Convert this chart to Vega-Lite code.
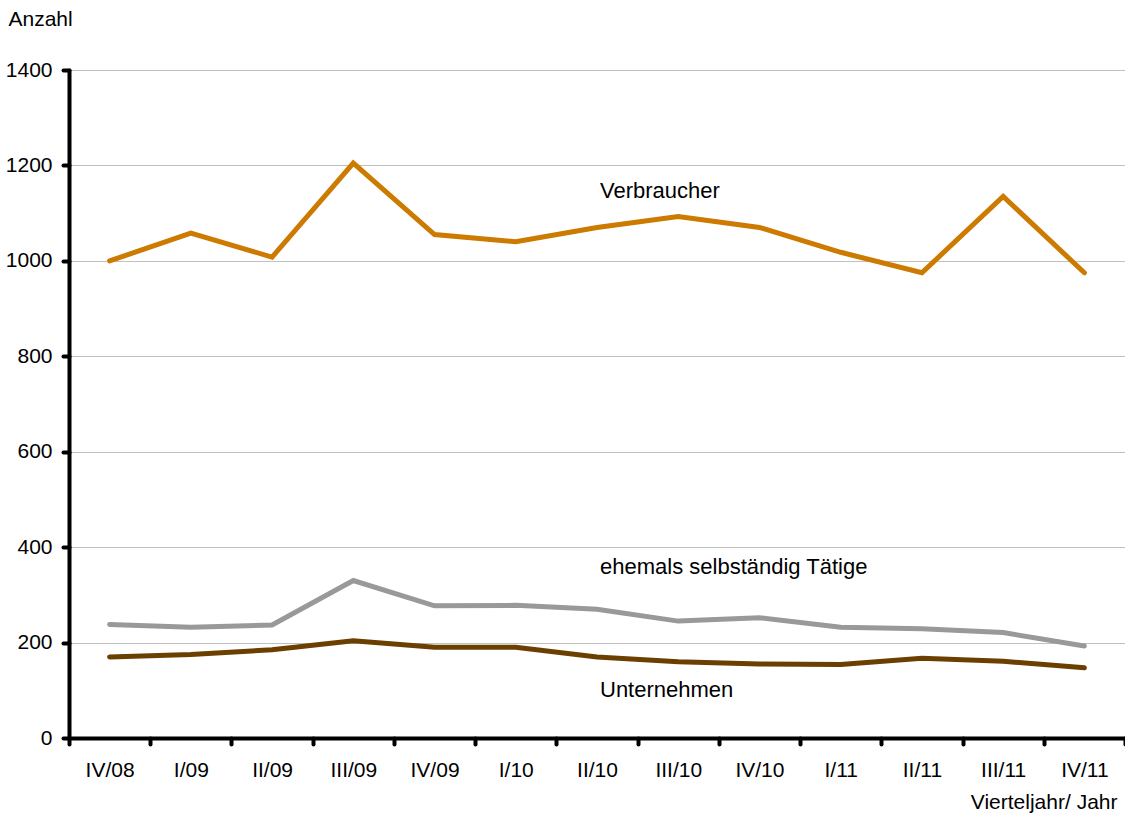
{
  "$schema": "https://vega.github.io/schema/vega-lite/v6.json",
  "autosize": {"type": "none"},
  "padding": {"left": 69, "top": 70, "right": 0, "bottom": 75},
  "width": 1056,
  "height": 668,
  "background": "white",
  "config": {
    "view": {"stroke": null},
    "font": "Liberation Sans",
    "axis": {"labelFont": "Liberation Sans", "titleFont": "Liberation Sans", "labelColor": "#000", "titleColor": "#000", "titleFontWeight": "normal"}
  },
  "datasets": {
    "series": [
      {"quarter": "IV/08", "series": "Verbraucher", "value": 1000},
      {"quarter": "I/09", "series": "Verbraucher", "value": 1058},
      {"quarter": "II/09", "series": "Verbraucher", "value": 1008},
      {"quarter": "III/09", "series": "Verbraucher", "value": 1205},
      {"quarter": "IV/09", "series": "Verbraucher", "value": 1055},
      {"quarter": "I/10", "series": "Verbraucher", "value": 1040},
      {"quarter": "II/10", "series": "Verbraucher", "value": 1070},
      {"quarter": "III/10", "series": "Verbraucher", "value": 1093},
      {"quarter": "IV/10", "series": "Verbraucher", "value": 1070},
      {"quarter": "I/11", "series": "Verbraucher", "value": 1018},
      {"quarter": "II/11", "series": "Verbraucher", "value": 975},
      {"quarter": "III/11", "series": "Verbraucher", "value": 1135},
      {"quarter": "IV/11", "series": "Verbraucher", "value": 975},
      {"quarter": "IV/08", "series": "ehemals selbständig Tätige", "value": 238},
      {"quarter": "I/09", "series": "ehemals selbständig Tätige", "value": 232},
      {"quarter": "II/09", "series": "ehemals selbständig Tätige", "value": 237},
      {"quarter": "III/09", "series": "ehemals selbständig Tätige", "value": 330},
      {"quarter": "IV/09", "series": "ehemals selbständig Tätige", "value": 277},
      {"quarter": "I/10", "series": "ehemals selbständig Tätige", "value": 278},
      {"quarter": "II/10", "series": "ehemals selbständig Tätige", "value": 270},
      {"quarter": "III/10", "series": "ehemals selbständig Tätige", "value": 245},
      {"quarter": "IV/10", "series": "ehemals selbständig Tätige", "value": 252},
      {"quarter": "I/11", "series": "ehemals selbständig Tätige", "value": 232},
      {"quarter": "II/11", "series": "ehemals selbständig Tätige", "value": 229},
      {"quarter": "III/11", "series": "ehemals selbständig Tätige", "value": 221},
      {"quarter": "IV/11", "series": "ehemals selbständig Tätige", "value": 193},
      {"quarter": "IV/08", "series": "Unternehmen", "value": 170},
      {"quarter": "I/09", "series": "Unternehmen", "value": 175},
      {"quarter": "II/09", "series": "Unternehmen", "value": 185},
      {"quarter": "III/09", "series": "Unternehmen", "value": 204},
      {"quarter": "IV/09", "series": "Unternehmen", "value": 190},
      {"quarter": "I/10", "series": "Unternehmen", "value": 190},
      {"quarter": "II/10", "series": "Unternehmen", "value": 170},
      {"quarter": "III/10", "series": "Unternehmen", "value": 160},
      {"quarter": "IV/10", "series": "Unternehmen", "value": 155},
      {"quarter": "I/11", "series": "Unternehmen", "value": 154},
      {"quarter": "II/11", "series": "Unternehmen", "value": 167},
      {"quarter": "III/11", "series": "Unternehmen", "value": 161},
      {"quarter": "IV/11", "series": "Unternehmen", "value": 147}
    ],
    "labels": [
      {"quarter": "II/10", "label": "Verbraucher", "value": 1147},
      {"quarter": "II/10", "label": "ehemals selbständig Tätige", "value": 358},
      {"quarter": "II/10", "label": "Unternehmen", "value": 100}
    ]
  },
  "layer": [
    {
      "data": {"name": "series"},
      "mark": {"type": "line", "strokeWidth": 5, "strokeCap": "round", "strokeJoin": "miter", "clip": false},
      "encoding": {
        "x": {
          "field": "quarter", "type": "ordinal", "bandPosition": 0.5,
          "scale": {"type": "band", "paddingInner": 0, "paddingOuter": 0, "domain": ["IV/08", "I/09", "II/09", "III/09", "IV/09", "I/10", "II/10", "III/10", "IV/10", "I/11", "II/11", "III/11", "IV/11"]},
          "axis": {
            "title": "Vierteljahr/ Jahr", "titleFontSize": 21, "titleX": 1048, "titleY": 70, "titleAlign": "right", "titleBaseline": "alphabetic", "titleAnchor": null,
            "labelAngle": 0, "labelFontSize": 21, "labelPadding": 32, "labelBaseline": "alphabetic",
            "domainColor": "#000", "domainWidth": 4, "domainCap": "round",
            "tickBand": "extent", "tickColor": "#000", "tickWidth": 4, "tickSize": 6, "tickCap": "round",
            "grid": false
          }
        },
        "y": {
          "field": "value", "type": "quantitative",
          "scale": {"domain": [0, 1400], "nice": false, "zero": true},
          "axis": {
            "title": "Anzahl", "titleFontSize": 21, "titleAngle": 0, "titleX": -61, "titleY": -45, "titleAlign": "left", "titleBaseline": "alphabetic", "titleAnchor": null,
            "values": [0, 200, 400, 600, 800, 1000, 1200, 1400], "format": "d",
            "labelFontSize": 21, "labelPadding": 11,
            "domainColor": "#000", "domainWidth": 4, "domainCap": "round",
            "tickColor": "#000", "tickWidth": 4, "tickSize": 6, "tickCap": "round",
            "grid": true, "gridColor": "#c0c0c0", "gridWidth": 1
          }
        },
        "color": {
          "field": "series", "type": "nominal",
          "scale": {"domain": ["Verbraucher", "ehemals selbständig Tätige", "Unternehmen"], "range": ["#CC7A00", "#999999", "#6B3F00"]},
          "legend": null
        }
      }
    },
    {
      "data": {"name": "labels"},
      "mark": {"type": "text", "align": "left", "baseline": "middle", "fontSize": 22, "dx": 3, "color": "#000", "font": "Liberation Sans"},
      "encoding": {
        "x": {"field": "quarter", "type": "ordinal", "bandPosition": 0.5},
        "y": {"field": "value", "type": "quantitative"},
        "text": {"field": "label"}
      }
    }
  ]
}
